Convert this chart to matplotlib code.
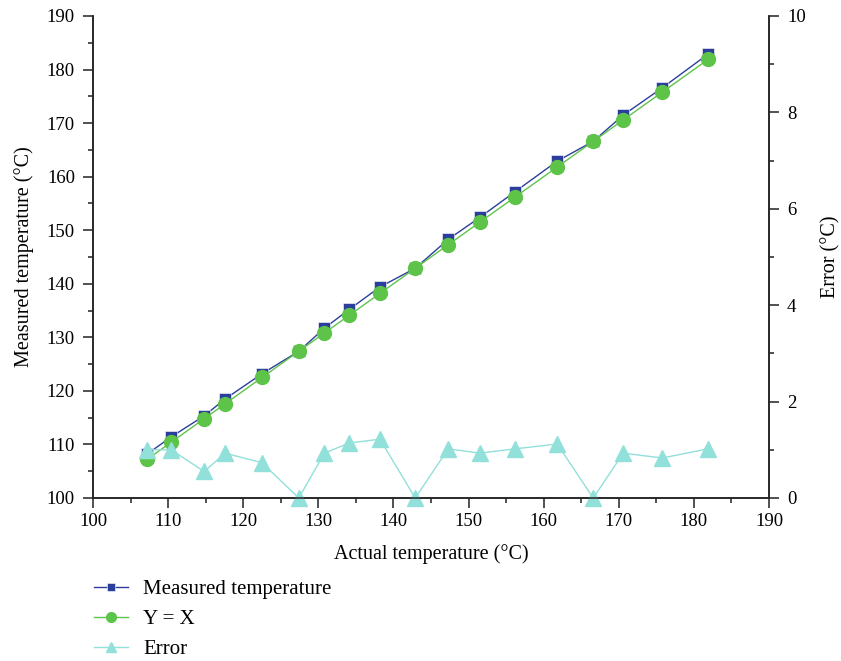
import matplotlib
matplotlib.use("Agg")
import matplotlib.pyplot as plt
from matplotlib.ticker import MultipleLocator

plt.rcParams['font.family'] = ['Liberation Serif', 'DejaVu Serif']

# values
actual = [107.2, 110.4, 114.8, 117.6, 122.5, 127.4, 130.8, 134.1, 138.2,
          142.9, 147.3, 151.5, 156.2, 161.8, 166.6, 170.6, 175.8, 181.9]
measured = [108.2, 111.4, 115.35, 118.5, 123.2, 127.4, 131.7, 135.2, 139.4,
            142.9, 148.3, 152.4, 157.2, 162.9, 166.6, 171.5, 176.6, 182.9]
ideal = actual  # Y = X
error = [1.0, 1.0, 0.55, 0.93, 0.73, 0.0, 0.93, 1.14, 1.22,
         0.0, 1.02, 0.93, 1.02, 1.12, 0.0, 0.93, 0.83, 1.02]

c_meas = '#2c3e9c'
c_ideal = '#5ec449'
c_err = '#92e0da'

fig = plt.figure(figsize=(8.41, 6.61), dpi=100)
ax = fig.add_axes([0.1106, 0.2466, 0.8038, 0.7292])
ax2 = ax.twinx()

l1, = ax.plot(actual, measured, '-s', color=c_meas, lw=1.0, ms=8.5,
              mec='white', mew=0.4, label='Measured temperature', clip_on=False)
l2, = ax.plot(actual, ideal, '-o', color=c_ideal, lw=1.0, ms=10,
              mec=c_ideal, label='Y = X', clip_on=False)
l3, = ax2.plot(actual, error, '-^', color=c_err, lw=1.0, ms=11,
               mec=c_err, label='Error', clip_on=False)

ax.set_xlim(100, 190)
ax.set_ylim(100, 190)
ax2.set_ylim(0, 10)

ax.xaxis.set_major_locator(MultipleLocator(10))
ax.xaxis.set_minor_locator(MultipleLocator(5))
ax.yaxis.set_major_locator(MultipleLocator(10))
ax.yaxis.set_minor_locator(MultipleLocator(5))
ax2.yaxis.set_major_locator(MultipleLocator(2))
ax2.yaxis.set_minor_locator(MultipleLocator(1))

for a in (ax, ax2):
    a.spines['top'].set_visible(False)
    for s in a.spines.values():
        s.set_linewidth(1.1)
        s.set_color('#222222')
    a.tick_params(which='major', direction='out', length=7, width=1.1,
                  labelsize=13.5, color='#222222', pad=6)
    a.tick_params(which='minor', direction='out', length=3.6, width=1.1,
                  color='#222222')
ax.tick_params(axis='x', which='major', pad=4)

ax.set_xlabel('Actual temperature (°C)', fontsize=14.5, labelpad=10)
ax.set_ylabel('Measured temperature (°C)', fontsize=14.5, labelpad=9)
ax2.set_ylabel('Error (°C)', fontsize=14.5, labelpad=11)

fig.legend(handles=[l1, l2, l3], loc='upper left',
           bbox_to_anchor=(0.09, 0.152), frameon=False, fontsize=15,
           handlelength=1.6, labelspacing=0.5, handletextpad=0.75,
           markerscale=0.7)

fig.savefig('out.png', dpi=100)
